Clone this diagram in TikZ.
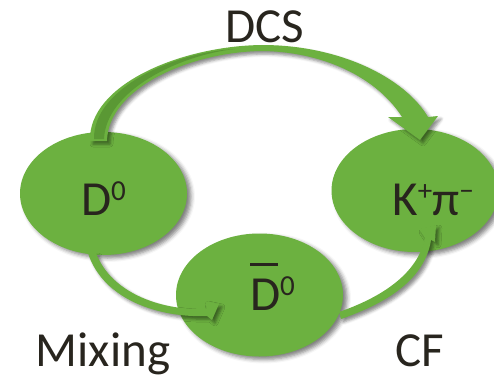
\documentclass[tikz,border=0pt]{standalone}
\usepackage{fontspec}
\setmainfont{Carlito}
\usetikzlibrary{shapes.geometric,shadows.blur}
\definecolor{grn}{RGB}{108,177,64}
\definecolor{grnd}{RGB}{90,152,52}
\definecolor{txt}{RGB}{40,37,30}
\begin{document}
\begin{tikzpicture}[x=1pt,y=-1pt,
  ell/.style={ellipse, fill=grn, minimum width=167pt, minimum height=123pt, inner sep=0pt,
    blur shadow={shadow xshift=4pt, shadow yshift=-3pt, shadow blur radius=4pt, shadow opacity=50}},
  lbl/.style={text=txt, font=\fontsize{49}{55}\selectfont, inner sep=0pt, anchor=base},
  arr/.style={fill=grn, blur shadow={shadow xshift=3pt, shadow yshift=-3pt, shadow blur radius=3pt, shadow opacity=45}},
  arrdark/.style={fill=grnd}]
\useasboundingbox (0,0) rectangle (494,377);

% ellipses
\node[ell] (d0) at (103.5,193.5) {};
\node[ell] (kpi) at (415,190.5) {};
\node[ell] (d0b) at (259.5,295) {};

% DCS arrow
\fill[arr] (90,141) .. controls (88,85) and (180,46) .. (262,45)
  .. controls (340,45) and (405,78) .. (428,117) -- (438,116) -- (420,140) -- (388,117) -- (402,117)
  .. controls (380,82) and (330,52) .. (262,51)
  .. controls (190,52) and (108,88) .. (107,141) -- cycle;
\fill[arrdark] (94,139) .. controls (93,88) and (175,52) .. (235,49)
  .. controls (180,55) and (106,90) .. (104,139) -- cycle;

% Mixing arrow
\fill[arr] (88,253) .. controls (103,300) and (160,318) .. (207,316) -- (212,320) -- (219,304) -- (205,301) -- (207,309)
  .. controls (165,311) and (112,295) .. (96,253) -- cycle;

% CF arrow
\fill[arr] (341,319) .. controls (390,302) and (425,278) .. (431,240) -- (435,242) -- (436,225) -- (419,229) -- (425,238)
  .. controls (418,272) and (385,296) .. (339,312) -- cycle;

% texts in ellipses
\node[lbl] (t0) at (103.5,215) {D\raisebox{15pt}{\fontsize{29}{30}\selectfont 0}};
\node[lbl] (tk) at (433,215) {K\raisebox{15pt}{\fontsize{29}{30}\selectfont +}π\raisebox{15pt}{\fontsize{29}{30}\selectfont −}};
\node[lbl] (tb) at (272.5,310) {\makebox[0pt][l]{\raisebox{44pt}{\rule{28pt}{3pt}}}D\raisebox{15pt}{\fontsize{29}{30}\selectfont 0}};

% labels
\node[lbl] (dcs) at (265,43) {DCS};
\node[lbl] (mix) at (103,366) {Mixing};
\node[lbl] (cf) at (420,366) {CF};
\end{tikzpicture}
\end{document}
